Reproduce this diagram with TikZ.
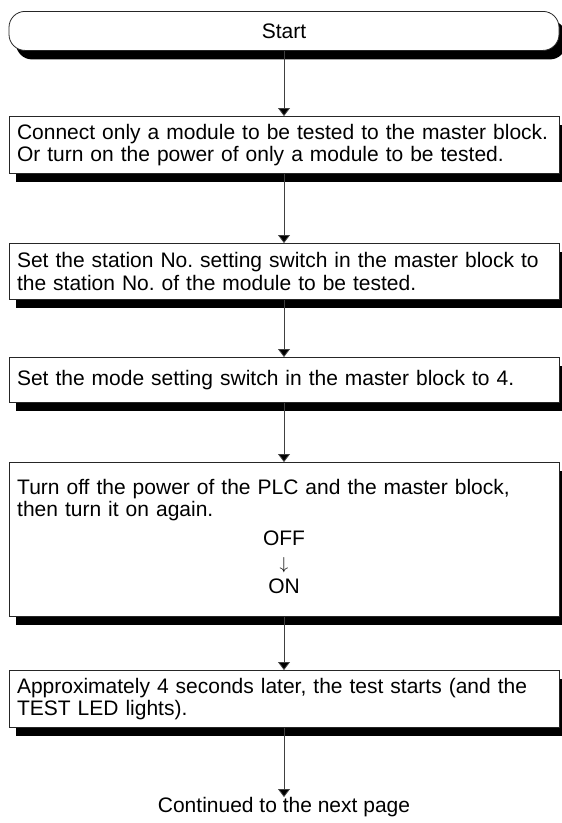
\documentclass[tikz,border=0pt]{standalone}
\usepackage{fontspec}
\setmainfont{Liberation Sans}
\usetikzlibrary{arrows.meta,shadows}
\frenchspacing

\tikzset{
  stepbox/.style={draw=black!85, line width=0.8pt, fill=white,
    text width=534pt, inner xsep=8pt, inner ysep=0pt, align=left,
    anchor=north,
    general shadow={fill=black, shadow xshift=7pt, shadow yshift=-9pt}},
  startbox/.style={stepbox, rounded corners=16pt, align=center},
  flow/.style={draw=black!75, line width=0.8pt,
    -{Triangle[width=12pt,length=8pt,fill=black]}},
}

\begin{document}
\begin{tikzpicture}[x=1pt,y=-1pt,font=\fontsize{21}{22.5}\selectfont]
  \useasboundingbox (0,0) rectangle (562,823);

  % Start
  \node[startbox, minimum height=39pt] (start) at (284,11) {Start};

  % Steps
  \node[stepbox, minimum height=57pt] (connect) at (284,116)
    {Connect only a module to be tested to the master block.\\
     Or turn on the power of only a module to be tested.};
  \node[stepbox, minimum height=56pt] (station) at (284,243)
    {Set the station No. setting switch in the master block to\\
     the station No. of the module to be tested.};
  \node[stepbox, minimum height=45pt] (mode) at (284,357)
    {Set the mode setting switch in the master block to 4.};
  \node[stepbox, minimum height=154pt] (power) at (284,462) {};
  \node[anchor=north west, text width=534pt, inner xsep=8pt, inner ysep=0pt,
    align=left] (powertext) at (9,479)
    {Turn off the power of the PLC and the master block,\\
     then turn it on again.};
  \node[align=center, inner sep=0pt] (offon) at (284,562)
    {OFF\\[2pt]{\fontsize{18}{18}\selectfont$\downarrow$}\\[1pt]ON};
  \node[stepbox, minimum height=57pt] (teststart) at (284,670)
    {Approximately 4 seconds later, the test starts (and the\\
     TEST LED lights).};

  % Continuation
  \node[anchor=north, inner sep=0pt] (cont) at (284,797)
    {Continued to the next page};

  % Connectors
  \draw[flow] (start) -- (connect);
  \draw[flow] (connect) -- (station);
  \draw[flow] (station) -- (mode);
  \draw[flow] (mode) -- (power);
  \draw[flow] (power) -- (teststart);
  \draw[flow] (teststart) -- (cont);

\end{tikzpicture}
\end{document}
